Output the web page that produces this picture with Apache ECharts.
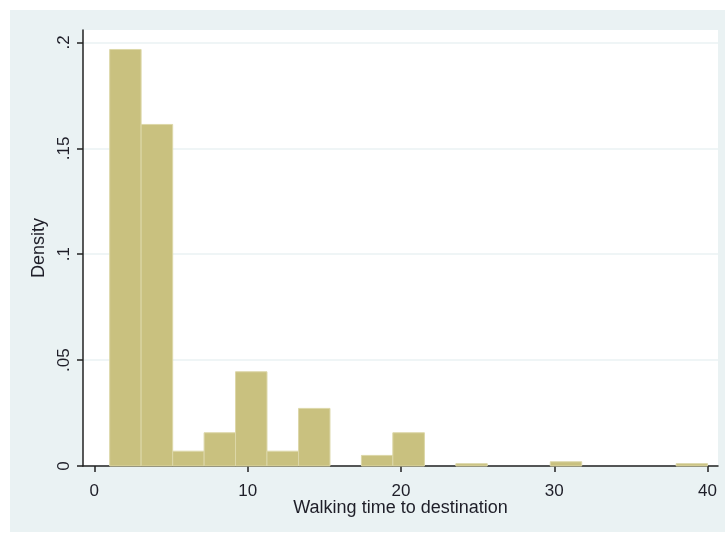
<!DOCTYPE html>
<html>
<head>
<meta charset="utf-8">
<script src="https://cdn.jsdelivr.net/npm/echarts@6/dist/echarts.min.js"></script>
<style>
  html, body { margin: 0; padding: 0; background: #ffffff; }
  #chart { width: 725px; height: 534px; }
</style>
</head>
<body>
<div id="chart"></div>
<script>
// Histogram of walking time: 19 equal-width bins between 1 and 40 minutes
const binEdges = [1, 3.05, 5.11, 7.16, 9.21, 11.26, 13.32, 15.37, 17.42, 19.47,
                  21.53, 23.58, 25.63, 27.68, 29.74, 31.79, 33.84, 35.89, 37.95, 40];
const density = [0.1967, 0.1613, 0.0070, 0.0157, 0.0445, 0.0070, 0.0272, 0, 0.0050, 0.0157,
                 0, 0.0011, 0, 0, 0.0020, 0, 0, 0, 0.0011];
const xTicks = [0, 10, 20, 30, 40];
const yTicks = [0, 0.05, 0.1, 0.15, 0.2];
const yTickLabels = ['0', '.05', '.1', '.15', '.2'];

const bins = density.map((d, i) => [binEdges[i], binEdges[i + 1], d]);

const chart = echarts.init(document.getElementById('chart'), null, { renderer: 'canvas' });
const textColor = '#1e1e28';
const font = 'Liberation Sans, Arial, sans-serif';

chart.setOption({
  backgroundColor: '#ffffff',
  animation: false,
  graphic: [{
    type: 'rect',
    z: -10,
    shape: { x: 10, y: 10, width: 715, height: 522 },
    style: { fill: '#eaf2f3' },
    silent: true
  }],
  grid: {
    left: 83, right: 7, top: 30, bottom: 68,
    show: true, backgroundColor: '#ffffff', borderWidth: 0
  },
  xAxis: {
    type: 'value',
    min: -0.74, max: 40.68,
    name: 'Walking time to destination',
    nameLocation: 'middle',
    nameGap: 33,
    nameMoveOverlap: false,
    nameTextStyle: { color: textColor, fontFamily: font, fontSize: 18 },
    axisLine: { show: true, onZero: false, lineStyle: { color: '#222', width: 1.5 } },
    axisTick: { show: true, inside: false, length: 6, customValues: xTicks, lineStyle: { color: '#222', width: 1.5 } },
    axisLabel: { customValues: xTicks, color: textColor, fontFamily: font, fontSize: 17, margin: 17 },
    splitLine: { show: false }
  },
  yAxis: {
    type: 'value',
    min: 0, max: 0.2059,
    name: 'Density',
    nameLocation: 'middle',
    nameGap: 34,
    nameRotate: 90,
    nameTextStyle: { color: textColor, fontFamily: font, fontSize: 18 },
    axisLine: { show: true, onZero: false, lineStyle: { color: '#222', width: 1.5 } },
    axisTick: { show: true, inside: false, length: 6, customValues: yTicks, lineStyle: { color: '#222', width: 1.5 } },
    axisLabel: {
      customValues: yTicks,
      rotate: 90,
      color: textColor, fontFamily: font, fontSize: 17, margin: 10,
      formatter: v => {
        const i = yTicks.findIndex(t => Math.abs(t - v) < 1e-9);
        return i >= 0 ? yTickLabels[i] : '';
      }
    },
    splitLine: { show: true, lineStyle: { color: '#eaf2f3', width: 1.5 } }
  },
  series: [{
    type: 'custom',
    data: bins,
    encode: { x: [0, 1], y: 2 },
    renderItem: (params, api) => {
      const h = api.value(2);
      if (!h) return null;
      const p0 = api.coord([api.value(0), h]);
      const p1 = api.coord([api.value(1), 0]);
      return {
        type: 'rect',
        shape: { x: p0[0], y: p0[1], width: p1[0] - p0[0], height: p1[1] - p0[1] },
        style: { fill: '#c9c17f', stroke: '#dcd7a8', lineWidth: 1 }
      };
    }
  }]
});
</script>
</body>
</html>
